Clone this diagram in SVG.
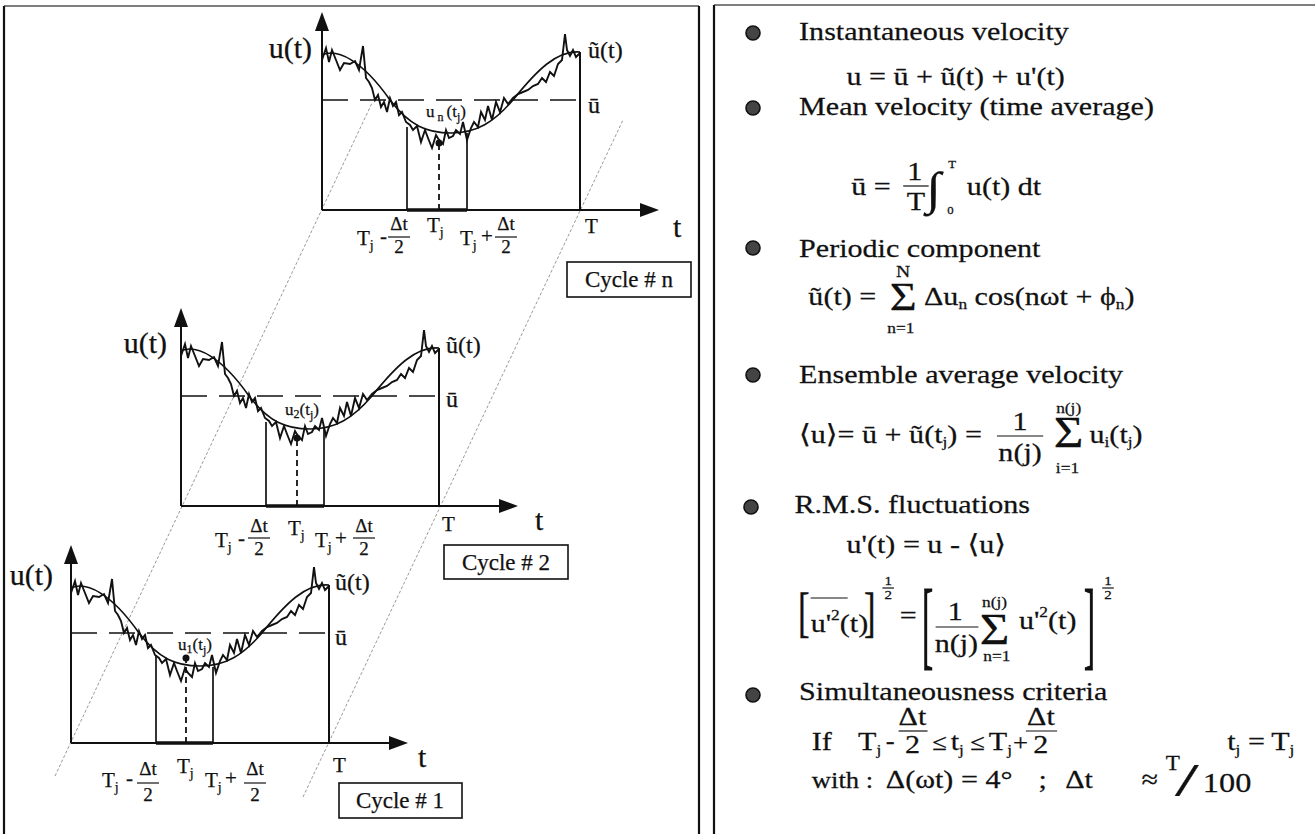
<svg xmlns="http://www.w3.org/2000/svg" xmlns:xlink="http://www.w3.org/1999/xlink" width="1315" height="834" viewBox="0 0 1315 834">
<style>
text{font-family:"Liberation Serif","DejaVu Serif",serif;fill:#111;stroke:#111;stroke-width:0.25}
.ax{stroke:#111;stroke-width:2;fill:none}
.thin{stroke:#111;stroke-width:1.7;fill:none}
.dash{stroke:#111;stroke-width:1.6;stroke-dasharray:26 12;fill:none}
.vdash{stroke:#111;stroke-width:1.8;stroke-dasharray:6 4;fill:none}
.curve{stroke:#111;stroke-width:1.6;fill:none}
.noise{stroke:#111;stroke-width:1.9;fill:none;stroke-linejoin:miter}
.base{stroke:#111;stroke-width:3.5}
.diag{stroke:#9a9a9a;stroke-width:1;stroke-dasharray:3 2;fill:none}
.border{stroke:#111;stroke-width:2.2;fill:none}
.topb{stroke:#555;stroke-width:1.3;fill:none}
.bul{fill:#444;stroke:#111;stroke-width:1.6}
.box{fill:#fff;stroke:#111;stroke-width:1.6}
.frb{stroke:#111;stroke-width:1.2}
.big{font-size:30px}
.mid{font-size:24px}
.lt{font-size:21px}
.fr{font-size:19px}
.sb{font-size:14px}
.ul{font-size:17px}
.us{font-size:12px}
.rt{font-size:26px}
.op{font-size:23px}
.sm{font-size:15px}
.cy{font-size:23px}
</style>
<defs>
<g id="plot">
<line class="ax" x1="0" y1="0" x2="0" y2="-182"/>
<polygon points="0,-198 -7,-179 7,-179" fill="#111"/>
<line class="ax" x1="0" y1="0" x2="322" y2="0"/>
<polygon points="337,0 318,-7 318,7" fill="#111"/>
<line class="ax" x1="258" y1="0" x2="258" y2="-158"/>
<line class="dash" x1="0" y1="-110" x2="258" y2="-110"/>
<path class="curve" d="M0,-155 C15,-162 40,-150 68,-110 C88,-84 105,-77 129,-77 C155,-77 172,-88 191,-110 C215,-140 235,-160 258,-158"/>
<polyline class="noise" points="0,-150 4,-162 7,-148 10,-160 14,-150 18,-140 22,-147 28,-146 33,-149 37,-140 41,-164 44,-132 47,-128 50,-122 53,-110 56,-115 59,-103 62,-108 65,-98 68,-112 71,-104 74,-108 77,-95 80,-98 84,-88 88,-85 91,-80 95,-84 99,-68 103,-80 106,-72 110,-62 114,-75 117,-70 121,-66 124,-80 127,-72 131,-74 134,-80 138,-76 141,-88 145,-70 149,-82 152,-88 156,-83 159,-98 163,-90 166,-104 170,-90 174,-108 178,-98 182,-112 186,-106 191,-112 196,-116 201,-118 206,-120 211,-124 216,-126 220,-132 224,-128 228,-138 232,-134 236,-146 240,-150 243,-176 245,-160 248,-154 251,-160 254,-153 258,-157"/>
</g>
</defs>
<rect width="1315" height="834" fill="#fff"/>

<g id="frames">
<line class="topb" x1="4" y1="6" x2="699" y2="6"/>
<line class="border" x1="4" y1="6" x2="4" y2="834"/>
<line class="border" x1="699" y1="6" x2="699" y2="834"/>
<line class="topb" x1="714" y1="5" x2="1315" y2="5"/>
<line class="border" x1="714" y1="5" x2="714" y2="834"/>
</g>

<g id="connectors">
<line class="diag" x1="55" y1="776" x2="372" y2="103"/>
<line class="diag" x1="303" y1="797" x2="623" y2="120"/>
</g>

<g id="cycle-n-plot" transform="translate(322,210)">
<use xlink:href="#plot" href="#plot"/>
<line class="thin" x1="85" y1="0" x2="85" y2="-83"/>
<line class="thin" x1="145" y1="0" x2="145" y2="-77"/>
<line class="base" x1="85" y1="0" x2="145" y2="0"/>
<line class="vdash" x1="117" y1="0" x2="117" y2="-67"/>
<circle cx="117" cy="-67" r="3.5" fill="#111"/>
<text class="ul" x="104" y="-93">u<tspan class="us" dx="3" dy="4">n</tspan><tspan dx="3" dy="-4">(t</tspan><tspan class="us" dy="4">j</tspan><tspan dy="-4">)</tspan></text>
<text class="big" x="-10" y="-152" text-anchor="end">u(t)</text>
<text class="mid" x="266" y="-152">ũ(t)</text>
<text class="mid" x="266" y="-97">ū</text>
<text class="lt" x="35" y="35">T<tspan class="sb" dy="5">j</tspan></text>
<text class="lt" x="58" y="33">-</text>
<text class="fr" x="77" y="20" text-anchor="middle">Δt</text>
<line class="frb" x1="66" y1="27" x2="88" y2="27"/>
<text class="fr" x="77" y="43" text-anchor="middle">2</text>
<text class="lt" x="105" y="22">T<tspan class="sb" dy="5">j</tspan></text>
<text class="lt" x="138" y="35">T<tspan class="sb" dy="5">j</tspan></text>
<text class="lt" x="165" y="33" text-anchor="middle">+</text>
<text class="fr" x="184" y="20" text-anchor="middle">Δt</text>
<line class="frb" x1="173" y1="27" x2="195" y2="27"/>
<text class="fr" x="184" y="43" text-anchor="middle">2</text>
<text class="lt" x="263" y="23">T</text>
<text class="big" x="351" y="27">t</text>
</g>

<g id="cycle-2-plot" transform="translate(181,506)">
<use xlink:href="#plot" href="#plot"/>
<line class="thin" x1="85" y1="0" x2="85" y2="-84"/>
<line class="thin" x1="143" y1="0" x2="143" y2="-79"/>
<line class="base" x1="85" y1="0" x2="143" y2="0"/>
<line class="vdash" x1="116" y1="0" x2="116" y2="-68"/>
<circle cx="116" cy="-68" r="3.5" fill="#111"/>
<text class="ul" x="104" y="-91">u<tspan class="us" dy="3">2</tspan><tspan dy="-3">(t</tspan><tspan class="us" dy="4">j</tspan><tspan dy="-4">)</tspan></text>
<text class="big" x="-14" y="-153" text-anchor="end">u(t)</text>
<text class="mid" x="265" y="-153">ũ(t)</text>
<text class="mid" x="265" y="-99">ū</text>
<text class="lt" x="34" y="41">T<tspan class="sb" dy="5">j</tspan></text>
<text class="lt" x="57" y="39">-</text>
<text class="fr" x="78" y="26" text-anchor="middle">Δt</text>
<line class="frb" x1="67" y1="32" x2="89" y2="32"/>
<text class="fr" x="78" y="49" text-anchor="middle">2</text>
<text class="lt" x="107" y="29">T<tspan class="sb" dy="5">j</tspan></text>
<text class="lt" x="134" y="41">T<tspan class="sb" dy="5">j</tspan></text>
<text class="lt" x="160" y="39" text-anchor="middle">+</text>
<text class="fr" x="183" y="26" text-anchor="middle">Δt</text>
<line class="frb" x1="172" y1="32" x2="194" y2="32"/>
<text class="fr" x="183" y="49" text-anchor="middle">2</text>
<text class="lt" x="261" y="25">T</text>
<text class="big" x="354" y="24">t</text>
</g>

<g id="cycle-1-plot" transform="translate(71,743)">
<use xlink:href="#plot" href="#plot"/>
<line class="thin" x1="85" y1="0" x2="85" y2="-88"/>
<line class="thin" x1="142" y1="0" x2="142" y2="-76"/>
<line class="base" x1="85" y1="0" x2="142" y2="0"/>
<line class="vdash" x1="115" y1="0" x2="115" y2="-85"/>
<circle cx="115" cy="-85" r="3.5" fill="#111"/>
<text class="ul" x="107" y="-93">u<tspan class="us" dy="3">1</tspan><tspan dy="-3">(t</tspan><tspan class="us" dy="4">j</tspan><tspan dy="-4">)</tspan></text>
<text class="big" x="-18" y="-158" text-anchor="end">u(t)</text>
<text class="mid" x="264" y="-153">ũ(t)</text>
<text class="mid" x="264" y="-98">ū</text>
<text class="lt" x="31" y="44">T<tspan class="sb" dy="5">j</tspan></text>
<text class="lt" x="55" y="42">-</text>
<text class="fr" x="77" y="32" text-anchor="middle">Δt</text>
<line class="frb" x1="66" y1="40" x2="88" y2="40"/>
<text class="fr" x="77" y="58" text-anchor="middle">2</text>
<text class="lt" x="106" y="30">T<tspan class="sb" dy="5">j</tspan></text>
<text class="lt" x="134" y="44">T<tspan class="sb" dy="5">j</tspan></text>
<text class="lt" x="160" y="42" text-anchor="middle">+</text>
<text class="fr" x="184" y="32" text-anchor="middle">Δt</text>
<line class="frb" x1="173" y1="40" x2="195" y2="40"/>
<text class="fr" x="184" y="58" text-anchor="middle">2</text>
<text class="lt" x="262" y="29">T</text>
<text class="big" x="347" y="24">t</text>
</g>

<g id="cycle-n-label"><rect class="box" x="567" y="262" width="124" height="35"/><text class="cy" x="629" y="287" text-anchor="middle">Cycle # n</text></g>
<g id="cycle-2-label"><rect class="box" x="444" y="545" width="124" height="34"/><text class="cy" x="506" y="570" text-anchor="middle">Cycle # 2</text></g>
<g id="cycle-1-label"><rect class="box" x="339" y="783" width="123" height="35"/><text class="cy" x="400" y="808" text-anchor="middle">Cycle # 1</text></g>

<g id="bullets">
<circle class="bul" cx="753" cy="33" r="7"/>
<circle class="bul" cx="753" cy="108" r="7"/>
<circle class="bul" cx="753" cy="248" r="7"/>
<circle class="bul" cx="753" cy="375" r="7"/>
<circle class="bul" cx="751" cy="507" r="7"/>
<circle class="bul" cx="753" cy="695" r="7"/>
</g>

<g id="definitions" transform="matrix(1.157,0,0,1,-111.47,0)">
<g id="instantaneous">
<text class="rt" x="787" y="40">Instantaneous velocity</text>
<text class="rt" x="828" y="85">u = ū + ũ(t) + u'(t)</text>
</g>
<g id="mean">
<text class="rt" x="787" y="115">Mean velocity (time average)</text>
<text class="rt" x="832" y="195">ū =</text>
<text class="rt" x="887" y="180" text-anchor="middle">1</text>
<line class="frb" x1="877" y1="186" x2="899" y2="186"/>
<text class="rt" x="888" y="210" text-anchor="middle">T</text>
<text x="897" y="204" style="font-size:46px">∫</text>
<text x="916" y="168" style="font-size:11px">T</text>
<text x="915" y="214" style="font-size:11px">0</text>
<text class="rt" x="932" y="195">u(t) dt</text>
</g>
<g id="periodic">
<text class="rt" x="787" y="257">Periodic component</text>
<text class="rt" x="795" y="305">ũ(t) =</text>
<text x="877" y="277" text-anchor="middle" style="font-size:17px">N</text>
<text x="877" y="310" text-anchor="middle" style="font-size:40px">Σ</text>
<text class="sm" x="875" y="333" text-anchor="middle">n=1</text>
<text class="rt" x="895" y="305">Δu<tspan class="sm" dy="4">n</tspan><tspan dy="-4"> cos(nωt + ϕ</tspan><tspan class="sm" dy="4">n</tspan><tspan dy="-4">)</tspan></text>
</g>
<g id="ensemble">
<text class="rt" x="787" y="383">Ensemble average velocity</text>
<text class="rt" x="787" y="443">⟨u⟩= ū + ũ(t<tspan class="sm" dy="4">j</tspan><tspan dy="-4">) =</tspan></text>
<text class="rt" x="978" y="430" text-anchor="middle">1</text>
<line class="frb" x1="958" y1="436" x2="998" y2="436"/>
<text class="rt" x="978" y="461" text-anchor="middle">n(j)</text>
<text x="1020" y="447" text-anchor="middle" style="font-size:44px">Σ</text>
<text class="sm" x="1020" y="413" text-anchor="middle">n(j)</text>
<text class="sm" x="1019" y="473" text-anchor="middle">i=1</text>
<text class="rt" x="1038" y="443">u<tspan class="sm" dy="4">i</tspan><tspan dy="-4">(t</tspan><tspan class="sm" dy="4">j</tspan><tspan dy="-4">)</tspan></text>
</g>
<g id="rms">
<text class="rt" x="783" y="513">R.M.S. fluctuations</text>
<text class="rt" x="828" y="553">u'(t) = u - ⟨u⟩</text>
<text transform="translate(786,631) scale(1,1.83)" style="font-size:30px">[</text>
<text class="rt" x="797" y="632">u'<tspan class="sm" dy="-12">2</tspan><tspan dy="12">(t)</tspan></text>
<line class="frb" x1="797" y1="598" x2="829" y2="598"/>
<text transform="translate(843,631) scale(1,1.83)" style="font-size:30px">]</text>
<text x="864" y="585" text-anchor="middle" style="font-size:13px">1</text>
<line class="frb" x1="859" y1="588" x2="869" y2="588"/>
<text x="864" y="599" text-anchor="middle" style="font-size:13px">2</text>
<text class="rt" x="874" y="624">=</text>
<text transform="translate(893,657) scale(1,3.26)" style="font-size:30px">[</text>
<text class="rt" x="922" y="620" text-anchor="middle">1</text>
<line class="frb" x1="905" y1="627" x2="942" y2="627"/>
<text class="rt" x="923" y="652" text-anchor="middle">n(j)</text>
<text x="956" y="644" text-anchor="middle" style="font-size:44px">Σ</text>
<text class="sm" x="956" y="607" text-anchor="middle">n(j)</text>
<text class="sm" x="958" y="661" text-anchor="middle">n=1</text>
<text class="rt" x="977" y="629">u'<tspan class="sm" dy="-12">2</tspan><tspan dy="12">(t)</tspan></text>
<text transform="translate(1033,657) scale(1,3.26)" style="font-size:30px">]</text>
<text x="1054" y="585" text-anchor="middle" style="font-size:13px">1</text>
<line class="frb" x1="1049" y1="588" x2="1059" y2="588"/>
<text x="1054" y="599" text-anchor="middle" style="font-size:13px">2</text>
</g>
<g id="criteria">
<text class="rt" x="787" y="700">Simultaneousness criteria</text>
<text class="rt" x="798" y="750">If</text>
<text class="rt" x="838" y="750">T<tspan class="sm" dy="5">j</tspan></text>
<text class="op" x="862" y="749">-</text>
<text class="rt" x="885" y="725" text-anchor="middle">Δt</text>
<line class="frb" x1="873" y1="731" x2="898" y2="731"/>
<text class="rt" x="885" y="753" text-anchor="middle">2</text>
<text class="op" x="902" y="750">≤</text>
<text class="rt" x="918" y="750">t<tspan class="sm" dy="5">j</tspan></text>
<text class="op" x="935" y="750">≤</text>
<text class="rt" x="951" y="750">T<tspan class="sm" dy="5">j</tspan></text>
<text class="op" x="972" y="750">+</text>
<text class="rt" x="996" y="725" text-anchor="middle">Δt</text>
<line class="frb" x1="983" y1="731" x2="1010" y2="731"/>
<text class="rt" x="996" y="753" text-anchor="middle">2</text>
<text class="rt" x="1157" y="750">t<tspan class="sm" dy="5">j</tspan></text>
<text class="rt" x="1175" y="750">=</text>
<text class="rt" x="1195" y="750">T<tspan class="sm" dy="5">j</tspan></text>
<text class="op" x="798" y="788">with :</text>
<text class="rt" x="862" y="788">Δ(ωt) = 4°</text>
<text class="rt" x="994" y="788">;</text>
<text class="rt" x="1017" y="788">Δt</text>
<text class="rt" x="1083" y="788">≈</text>
<text x="1104" y="770" style="font-size:20px">T</text>
<text transform="translate(1112,796) scale(1.6,1)" style="font-size:46px">/</text>
<text x="1136" y="792" style="font-size:28px">100</text>
</g>
</g>
</svg>
